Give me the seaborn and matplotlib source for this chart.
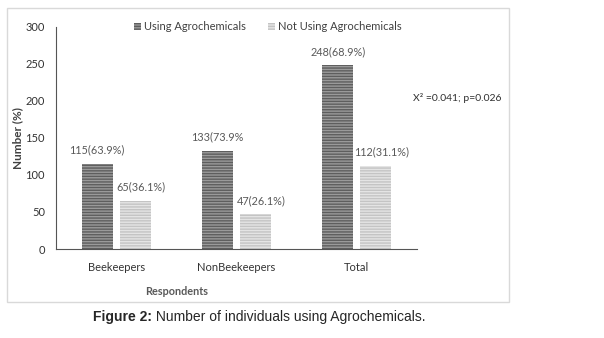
import matplotlib
matplotlib.use("Agg")
import matplotlib.pyplot as plt
from matplotlib.patches import Rectangle
import seaborn as sns
import pandas as pd

# data
groups = ["Beekeepers", "NonBeekeepers", "Total"]
using = [115, 133, 248]
not_using = [65, 47, 112]
using_labels = ["115(63.9%)", "133(73.9%", "248(68.9%)"]
not_using_labels = ["65(36.1%)", "47(26.1%)", "112(31.1%)"]
series = ["Using Agrochemicals", "Not Using Agrochemicals"]

df = pd.DataFrame({
    "group": groups * 2,
    "status": [series[0]] * 3 + [series[1]] * 3,
    "count": using + not_using,
})

sns.set_style("white")
plt.rcParams["font.family"] = ["Lato", "DejaVu Sans"]
plt.rcParams["hatch.linewidth"] = 1.0

fig = plt.figure(figsize=(6.04, 3.38), dpi=100)
ax = fig.add_axes([0.0927, 0.2633, 0.5977, 0.657])

sns.barplot(data=df, x="group", y="count", hue="status", ax=ax,
            width=0.63, gap=0.18, legend=False)

faces = ["#9a9a9a", "#e4e4e4"]
hatch_cols = ["#5e5e5e", "#c4c4c4"]
for cont, fc, hc in zip(ax.containers, faces, hatch_cols):
    for p in cont:
        p.set_facecolor(fc)
        p.set_edgecolor(hc)
        p.set_linewidth(0)
        p.set_hatch("------")

ax.bar_label(ax.containers[0], labels=using_labels, padding=6,
             fontsize=7.8, color="#595959")
light = ax.bar_label(ax.containers[1], labels=not_using_labels, padding=6,
                     fontsize=7.8, color="#595959")
# the light-bar labels sit a little right of their bars in the reference
for t in light:
    t.xyann = (4, 6)

ax.set_ylim(0, 300)
ax.set_yticks(range(0, 301, 50))
ax.set_xlim(-0.5, 2.5)
ax.tick_params(axis="both", length=0, labelsize=8, colors="#333333")
ax.tick_params(axis="y", pad=8)
ax.tick_params(axis="x", pad=9)
for s in ["top", "right"]:
    ax.spines[s].set_visible(False)
ax.spines["left"].set_color("#555555")
ax.spines["bottom"].set_color("#555555")

ax.set_ylabel("Number (%)", fontsize=8.5, fontweight="bold", color="#404040")
ax.yaxis.set_label_coords((23 - 56) / 361, 0.5)
ax.set_xlabel("Respondents", fontsize=7.8, fontweight="bold", color="#595959")
ax.xaxis.set_label_coords((177 - 56) / 361, (249 - 286) / 222)

leg = ax.legend([c.patches[0] for c in ax.containers], series,
                loc="center", bbox_to_anchor=(268 / 604, 1 - 27 / 338),
                bbox_transform=fig.transFigure, ncol=2, frameon=False,
                fontsize=8, handlelength=0.6, handleheight=0.6,
                columnspacing=2.0, handletextpad=0.3)
for t in leg.get_texts():
    t.set_color("#404040")

fig.text(413 / 604, 1 - 98 / 338, "X² =0.041; p=0.026", fontsize=7.5,
         color="#303030", va="center")

fig.patches.append(Rectangle((7 / 604, 1 - 302 / 338), 502 / 604, 294 / 338,
                             transform=fig.transFigure, fill=False,
                             edgecolor="#d9d9d9", linewidth=1))

cap = fig.text(93 / 604, 1 - 317 / 338, "Figure 2:", ha="left", va="center",
               fontsize=10, fontweight="bold", family="Liberation Sans")
ax.annotate(" Number of individuals using Agrochemicals.", xy=(1, 0.5),
            xycoords=cap, ha="left", va="center", fontsize=10,
            family="Liberation Sans", annotation_clip=False)

fig.savefig("out.png", dpi=100)
